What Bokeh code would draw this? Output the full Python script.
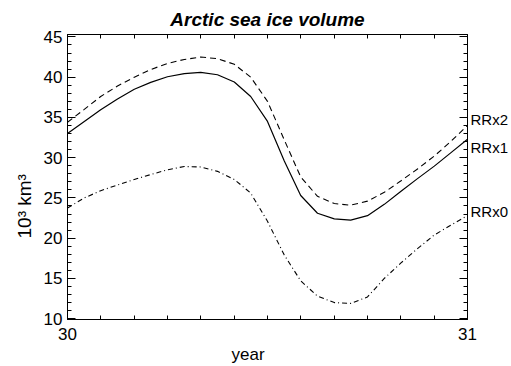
from bokeh.plotting import figure
from bokeh.models import (Range1d, FixedTicker, SingleIntervalTicker, LinearAxis,
                          Title)
from bokeh.embed import file_html
from bokeh.resources import INLINE

years = [30.0, 30.042, 30.083, 30.125, 30.167, 30.208, 30.25, 30.292, 30.333,
         30.375, 30.417, 30.458, 30.5, 30.542, 30.583, 30.625, 30.667, 30.708,
         30.75, 30.792, 30.833, 30.875, 30.917, 30.958, 31.0]

rrx2 = [34.4, 36.0, 37.6, 38.9, 40.0, 40.95, 41.7, 42.2, 42.5, 42.3, 41.6, 40.0,
        37.0, 32.2, 27.6, 25.2, 24.3, 24.1, 24.6, 25.7, 27.1, 28.6, 30.2, 32.0, 34.0]
rrx1 = [33.0, 34.5, 35.95, 37.3, 38.5, 39.35, 40.05, 40.45, 40.6, 40.3, 39.4, 37.6,
        34.5, 29.6, 25.3, 23.1, 22.4, 22.25, 22.8, 24.2, 25.8, 27.4, 28.95, 30.6, 32.3]
rrx0 = [23.75, 25.0, 25.9, 26.6, 27.3, 27.9, 28.5, 28.9, 28.85, 28.3, 27.3, 25.6,
        22.1, 17.9, 14.7, 12.8, 12.0, 11.9, 12.7, 15.0, 16.9, 18.7, 20.4, 21.6, 22.8]

series_names = ["RRx2", "RRx1", "RRx0"]
label_pos = [34.8, 31.25, 23.3]
x_major = [30, 31]
y_major = [10, 15, 20, 25, 30, 35, 40, 45]

FONT = "Liberation Sans"

p = figure(width=511, height=366, output_backend="svg", toolbar_location=None,
           x_range=Range1d(30, 31), y_range=Range1d(9.9, 45.3),
           min_border_left=67, min_border_right=44, min_border_top=34,
           min_border_bottom=47, x_axis_type=None, y_axis_type=None)
p.grid.visible = False
p.outline_line_color = "black"
p.outline_line_width = 1
p.background_fill_color = "white"
p.border_fill_color = "white"

p.title.text = "Arctic sea ice volume"
p.title.align = "center"
p.title.vertical_align = "top"
p.title.text_font = FONT
p.title.text_font_size = "19px"
p.title.text_font_style = "bold italic"
p.title.text_color = "black"
p.title.standoff = 5

xt = FixedTicker(ticks=x_major, minor_ticks=[30 + i / 12 for i in range(1, 12)])
yt = SingleIntervalTicker(interval=5, num_minor_ticks=5)


def style(ax, blank=None):
    ax.axis_line_color = "black"
    ax.major_tick_line_color = "black"
    ax.minor_tick_line_color = "black"
    ax.major_tick_out = 0
    ax.minor_tick_out = 0
    ax.major_label_text_font = FONT
    ax.major_label_text_font_size = "17px"
    ax.major_label_text_color = "black"
    if blank is not None:
        ax.major_label_overrides = {v: "" for v in blank}
        ax.major_label_standoff = 0


bx = LinearAxis(ticker=xt)
style(bx)
bx.major_tick_in = 4
bx.minor_tick_in = 4
bx.major_label_standoff = 8
p.add_layout(bx, "below")

tx = LinearAxis(ticker=xt)
style(tx, blank=x_major)
tx.major_tick_in = 4
tx.minor_tick_in = 4
p.add_layout(tx, "above")

ly = LinearAxis(ticker=yt)
style(ly)
ly.major_tick_in = 8
ly.minor_tick_in = 4
ly.major_label_standoff = 5
p.add_layout(ly, "left")

ry = LinearAxis(ticker=yt)
style(ry, blank=y_major)
ry.major_tick_in = 8
ry.minor_tick_in = 4
p.add_layout(ry, "right")

lab = LinearAxis(ticker=FixedTicker(ticks=label_pos, minor_ticks=[]),
                 major_label_overrides={v: n for v, n in zip(label_pos, series_names)})
lab.axis_line_color = None
lab.major_tick_line_color = None
lab.minor_tick_line_color = None
lab.major_tick_out = 0
lab.major_tick_in = 0
lab.major_label_standoff = 3
lab.major_label_text_font = FONT
lab.major_label_text_font_size = "15px"
lab.major_label_text_color = "black"
p.add_layout(lab, "right")

p.add_layout(Title(text="year", text_font=FONT, text_font_size="17px",
                   text_font_style="normal", text_color="black", align="left",
                   offset=164, standoff=0), "below")
p.add_layout(Title(text="10³ km³", text_font=FONT, text_font_size="19px",
                   text_font_style="normal", text_color="black", align="left",
                   offset=81, standoff=12), "left")

p.line(years, rrx2, line_color="black", line_width=1.1, line_dash="6 4")
p.line(years, rrx1, line_color="black", line_width=1.2)
p.line(years, rrx0, line_color="black", line_width=1.1, line_dash="5 3 1 3")

open("out.html", "w").write(file_html(p, INLINE))
